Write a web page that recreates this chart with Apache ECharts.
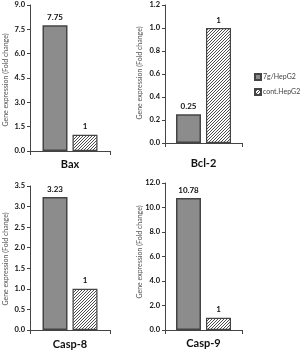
<!DOCTYPE html>
<html><head><meta charset="utf-8">
<script src="https://cdn.jsdelivr.net/npm/echarts@6/dist/echarts.min.js"></script>
<style>html,body{margin:0;padding:0;background:#fff}#c{width:303px;height:352px}</style>
</head><body><div id="c"></div>
<script>
const genes = ['Bax', 'Bcl-2', 'Casp-8', 'Casp-9'];
const seriesNames = ['7g/HepG2', 'cont.HepG2'];
const treated = [7.75, 0.25, 3.23, 10.78];
const control = [1, 1, 1, 1];
const yMax = [9, 1.2, 3.5, 12];
const yStep = [1.5, 0.2, 0.5, 2];
const yTitle = 'Gene expression (Fold change)';

const FONT = 'Lato';
const layout = [
  {left: 30, top: 5, width: 80, height: 146, catMargin: 8, titleX: 6, titleY: 80},
  {left: 165, top: 5, width: 77, height: 138, catMargin: 15, titleX: 140, titleY: 73},
  {left: 30, top: 186, width: 80, height: 144, catMargin: 9, titleX: 6, titleY: 259},
  {left: 165, top: 183, width: 77, height: 147, catMargin: 8, titleX: 140, titleY: 252}
];

function hatch() {
  const s = 3;
  const c = document.createElement('canvas');
  c.width = s; c.height = s;
  const g = c.getContext('2d');
  g.fillStyle = '#ffffff'; g.fillRect(0, 0, s, s);
  g.strokeStyle = '#3a3a3a'; g.lineWidth = 0.9;
  g.beginPath();
  g.moveTo(-1, s + 1); g.lineTo(s + 1, -1);
  g.moveTo(-1, 1); g.lineTo(1, -1);
  g.moveTo(s - 1, s + 1); g.lineTo(s + 1, s - 1);
  g.stroke();
  return c;
}
const pattern = {image: hatch(), repeat: 'repeat'};

const grid = [], xAxis = [], yAxis = [], series = [], graphic = [];
genes.forEach((g, i) => {
  const L = layout[i];
  grid.push({left: L.left, top: L.top, width: L.width, height: L.height});
  xAxis.push({
    type: 'category', gridIndex: i, data: [g],
    axisLine: {lineStyle: {color: '#444', width: 1}},
    axisTick: {show: true, length: 4, lineStyle: {color: '#444'}},
    axisLabel: {fontFamily: FONT, fontSize: 11, fontWeight: 'bold', color: '#111', margin: L.catMargin}
  });
  yAxis.push({
    type: 'value', gridIndex: i, min: 0, max: yMax[i], interval: yStep[i],
    axisLine: {show: true, lineStyle: {color: '#444', width: 1}},
    axisTick: {show: true, length: 3, lineStyle: {color: '#444'}},
    splitLine: {show: false},
    axisLabel: {fontFamily: FONT, fontSize: 7.5, fontWeight: 'bold', color: '#111', margin: 5,
      formatter: v => v.toFixed(1)}
  });
  const lbl = {show: true, position: 'top', distance: 4, fontFamily: FONT, fontSize: 8, fontWeight: 'bold', color: '#111'};
  series.push({
    name: seriesNames[0], type: 'bar', xAxisIndex: i, yAxisIndex: i,
    data: [treated[i]], barWidth: 25, barGap: '20%',
    itemStyle: {color: '#8c8c8c', borderColor: '#444', borderWidth: 1.5},
    label: lbl
  });
  series.push({
    name: seriesNames[1], type: 'bar', xAxisIndex: i, yAxisIndex: i,
    data: [control[i]], barWidth: 25, barGap: '20%',
    itemStyle: {color: pattern, borderColor: '#444', borderWidth: 1.2},
    label: lbl
  });
  graphic.push({
    type: 'text', x: L.titleX, y: L.titleY, rotation: Math.PI / 2,
    style: {text: yTitle, fontFamily: FONT, fontSize: 7, fill: '#555', align: 'center', verticalAlign: 'middle'}
  });
});

const chart = echarts.init(document.getElementById('c'), null, {renderer: 'canvas'});
chart.setOption({
  animation: false,
  legend: {
    data: seriesNames, orient: 'vertical', left: 254, top: 73, padding: 0,
    itemWidth: 6, itemHeight: 6, itemGap: 7,
    textStyle: {fontFamily: FONT, fontSize: 7, color: '#444', padding: [0, 0, 0, -3]},
    icon: 'rect'
  },
  grid, xAxis, yAxis, series, graphic
});
</script></body></html>
